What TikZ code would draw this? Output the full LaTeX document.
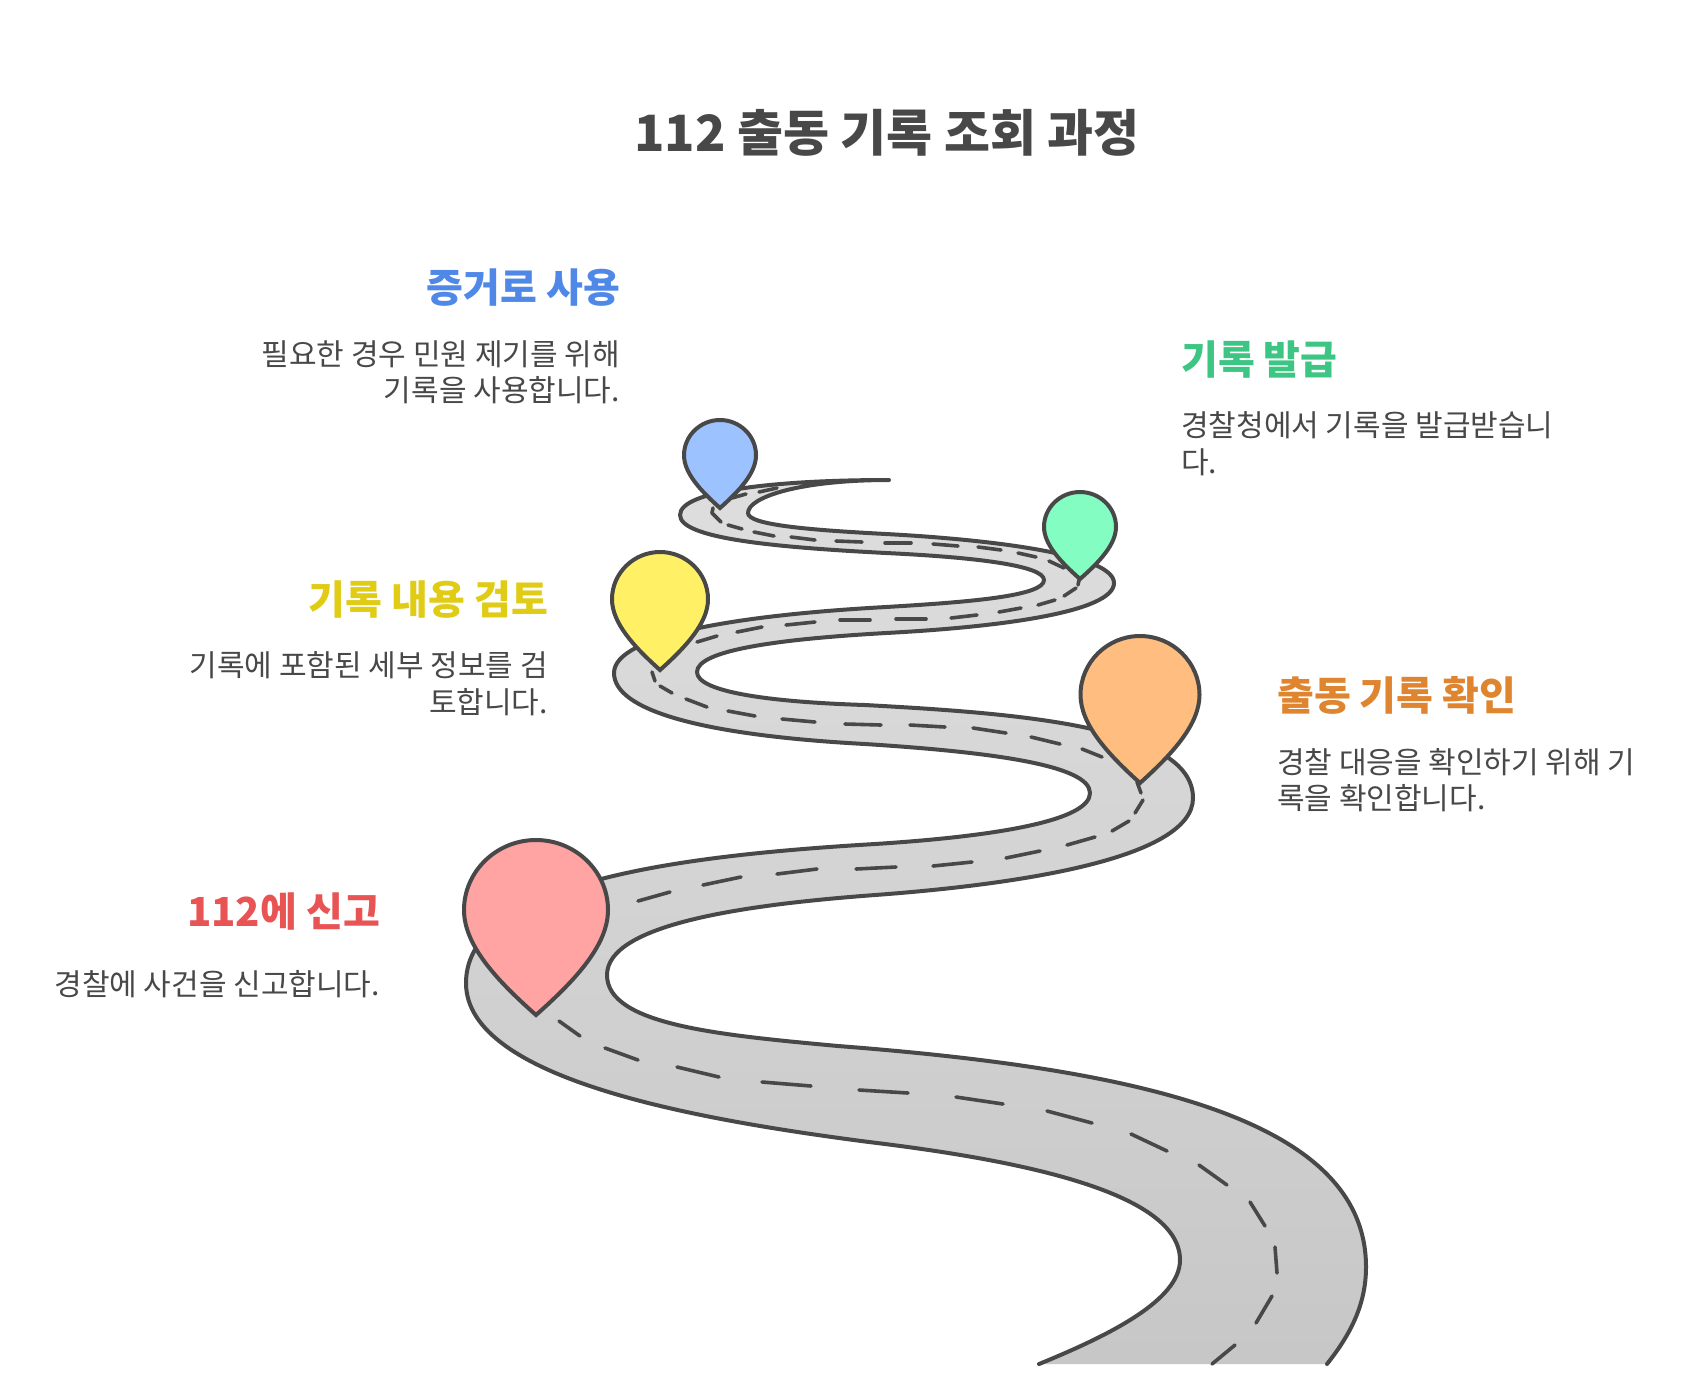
\documentclass[tikz,border=0pt]{standalone}
\usepackage{fontspec}
\setmainfont{Noto Sans CJK KR}
\definecolor{ink}{HTML}{484848}
\definecolor{pinblue}{HTML}{9CC2FF}
\definecolor{pingreen}{HTML}{84FDC2}
\definecolor{pinyellow}{HTML}{FFF066}
\definecolor{pinorange}{HTML}{FFBD80}
\definecolor{pinred}{HTML}{FFA3A3}
\definecolor{headblue}{HTML}{5088E8}
\definecolor{headgreen}{HTML}{3CC583}
\definecolor{headyellow}{HTML}{E0CB15}
\definecolor{headorange}{HTML}{DF8530}
\definecolor{headred}{HTML}{E85354}
\tikzset{
  edgeline/.style={draw=ink,line width=4pt,line cap=round,line join=round},
  dashline/.style={draw=ink,line width=3.6pt,line cap=round},
  pinshape/.style={draw=ink,line width=4pt,miter limit=6},
  titletext/.style={inner sep=0pt,text=ink,font=\fontsize{50}{50}\selectfont\bfseries},
  headtext/.style={inner sep=0pt,font=\fontsize{40}{40}\selectfont\bfseries},
  bodytext/.style={inner sep=0pt,text=ink,font=\fontsize{30}{30}\selectfont},
}
\newcommand\pinmark[5]{%
  \begin{scope}[shift={(#1,#2)},xscale=#3,yscale=#4]
    \draw[pinshape,fill=#5] (0,0) .. controls (.55,0) and (1,.18) .. (1,.4)
      .. controls (1,.6) and (.55,.8) .. (0,1)
      .. controls (-.55,.8) and (-1,.6) .. (-1,.4)
      .. controls (-1,.18) and (-.55,0) .. (0,0) -- cycle;
  \end{scope}}
\newcommand\edgeA{(1039,1364) .. controls (1110,1335) and (1180,1300) .. (1180,1260)
  .. controls (1180,1190) and (1009,1159) .. (869,1142)
  .. controls (700,1120) and (466,1080) .. (466,983)
  .. controls (466,880) and (690,855) .. (875,844)
  .. controls (1000,836) and (1090,820) .. (1090,793)
  .. controls (1090,765) and (990,752) .. (865,744)
  .. controls (700,735) and (614,710) .. (614,673)
  .. controls (614,635) and (740,615) .. (886,607)
  .. controls (970,602) and (1044,596) .. (1044,580)
  .. controls (1044,565) and (970,557) .. (886,553)
  .. controls (770,547) and (680,538) .. (680,515)
  .. controls (680,490) and (780,480) .. (889,480)}
\newcommand\edgeB{.. controls (800,480) and (748,497) .. (748,513)
  .. controls (748,525) and (810,530) .. (886,534)
  .. controls (980,539) and (1114,553) .. (1114,583)
  .. controls (1114,612) and (1000,627) .. (886,633)
  .. controls (780,639) and (697,650) .. (697,672)
  .. controls (697,692) and (770,702) .. (865,705)
  .. controls (1010,713) and (1193,725) .. (1193,798)
  .. controls (1193,860) and (1010,885) .. (875,895)
  .. controls (740,905) and (607,925) .. (607,975)
  .. controls (607,1025) and (720,1035) .. (838,1046)
  .. controls (1150,1070) and (1366,1122) .. (1366,1267)
  .. controls (1366,1305) and (1350,1335) .. (1327,1364)}
\begin{document}
\begin{tikzpicture}[x=1pt,y=-1pt]
\useasboundingbox (0,0) rectangle (1704,1385);
\fill[white] (0,0) rectangle (1704,1385);
% road surface and edges
\shade[top color=black!13,bottom color=black!22] \edgeA \edgeB -- cycle;
\draw[edgeline] \edgeA \edgeB;
% centre dashes
\foreach \a/\b in {
 {1212,1364}/{1235,1345},{1256,1323}/{1272,1296},{1277,1273}/{1275,1247},{1265,1226}/{1250,1202},
 {1227,1185}/{1199,1165},{1167,1151}/{1131,1134},{1092,1123}/{1047,1111},{1003,1104}/{956,1097},
 {908,1093}/{859,1090},{811,1086}/{762,1082},{719,1077}/{677,1067},{638,1060}/{605,1048},{580,1036}/{559,1021},
 {638,901}/{670,892},{703,885}/{741,877},{777,874}/{817,869},{856,869}/{896,867},{933,866}/{972,862},
 {1006,858}/{1040,851},{1067,845}/{1095,837},{1112,831}/{1129,821},{1135,813}/{1143,800},{1141,793}/{1137,782},
 {1102,757}/{1082,749},{1060,744}/{1031,737},{1006,733}/{973,728},{945,727}/{910,725},{881,725}/{845,724},
 {815,722}/{782,719},{755,716}/{728,711},{707,707}/{686,699},{672,693}/{660,686},{655,681}/{652,672},
 {697,642}/{717,636},{737,632}/{762,627},{786,625}/{815,622},{840,620}/{870,620},{896,619}/{926,619},
 {951,618}/{977,615},{999,612}/{1021,608},{1038,605}/{1055,600},{1064,596}/{1076,588},{1078,585}/{1079,580},
 {1064,568}/{1049,561},{1036,557}/{1018,553},{1001,550}/{978,547},{958,546}/{933,544},{911,543}/{885,543},
 {862,542}/{836,541},{815,540}/{791,537},{774,536}/{754,532},{742,529}/{728,525},{721,522}/{712,513},{712,513}/{713,508},
 {746,494}/{732,498},{777,488}/{759,492}}
 {\draw[dashline] (\a) -- (\b);}
% pins
\pinmark{720}{420}{36}{88}{pinblue}
\pinmark{1080}{492}{36}{87}{pingreen}
\pinmark{660}{552}{48}{118}{pinyellow}
\pinmark{1140}{636}{59.5}{147}{pinorange}
\pinmark{536}{840}{72}{175}{pinred}
% text
\node[titletext,anchor=base] (title) at (887,151) {112 출동 기록 조회 과정};
\node[headtext,text=headblue,anchor=base east] (h1) at (620,302) {증거로 사용};
\node[bodytext,anchor=base east] (b1a) at (620,365) {필요한 경우 민원 제기를 위해};
\node[bodytext,anchor=base east] (b1b) at (620,401) {기록을 사용합니다.};
\node[headtext,text=headgreen,anchor=base west] (h2) at (1181,374) {기록 발급};
\node[bodytext,anchor=base west] (b2a) at (1181,436) {경찰청에서 기록을 발급받습니};
\node[bodytext,anchor=base west] (b2b) at (1181,473) {다.};
\node[headtext,text=headyellow,anchor=base east] (h3) at (548,614) {기록 내용 검토};
\node[bodytext,anchor=base east] (b3a) at (548,676) {기록에 포함된 세부 정보를 검};
\node[bodytext,anchor=base east] (b3b) at (548,713) {토합니다.};
\node[headtext,text=headorange,anchor=base west] (h4) at (1277,710) {출동 기록 확인};
\node[bodytext,anchor=base west] (b4a) at (1277,773) {경찰 대응을 확인하기 위해 기};
\node[bodytext,anchor=base west] (b4b) at (1277,809) {록을 확인합니다.};
\node[headtext,text=headred,anchor=base east] (h5) at (380,926) {112에 신고};
\node[bodytext,anchor=base east] (b5) at (380,995) {경찰에 사건을 신고합니다.};
\end{tikzpicture}
\end{document}
